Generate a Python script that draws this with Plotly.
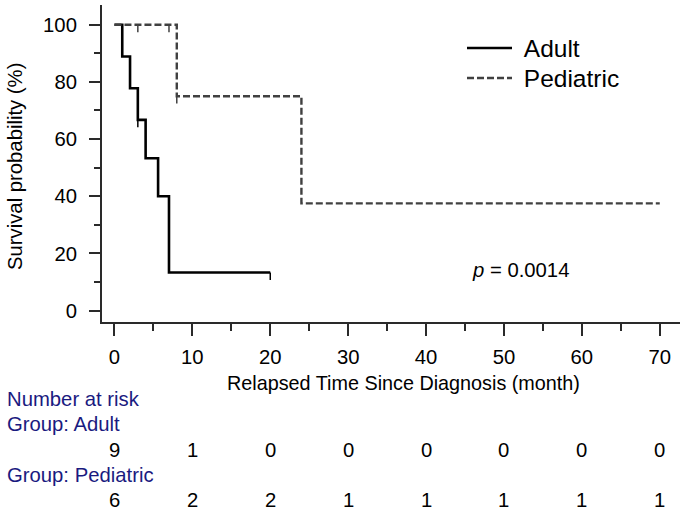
import plotly.graph_objects as go

# ---- data ----
adult_t = [0, 1, 2, 3, 4, 5.6, 7, 20]
adult_s = [100, 88.9, 77.8, 66.7, 53.3, 40.0, 13.3, 13.3]
adult_cens_t = [3, 20]
adult_cens_s = [66.7, 13.3]

ped_t = [0, 8, 24, 70]
ped_s = [100, 75.0, 37.5, 37.5]
ped_cens_t = [3, 7, 8]
ped_cens_s = [100, 100, 75.0]

risk_times = [0, 10, 20, 30, 40, 50, 60, 70]
risk_adult = [9, 1, 0, 0, 0, 0, 0, 0]
risk_ped = [6, 2, 2, 1, 1, 1, 1, 1]
p_text = "<i>p</i> = 0.0014"

W, H = 685, 513
ML, MR, MT, MB = 102, 5, 5, 191
PH = H - MT - MB
PW = W - ML - MR
FONT = "Liberation Sans, Arial, sans-serif"
FS = 20.3
NAVY = "#1a1a80"
PED_COL = "#404040"
CENS_LEN = 2.6  # tick length in % units


def cens_xy(ts, ss):
    xs, ys = [], []
    for t, s in zip(ts, ss):
        xs += [t, t, None]
        ys += [s, s - CENS_LEN, None]
    return xs, ys


def py(pix):
    return (H - MB - pix) / PH


def px(pix):
    return (pix - ML) / PW


fig = go.Figure()
fig.add_trace(go.Scatter(x=adult_t, y=adult_s, mode="lines", line_shape="hv",
                         name="\u00a0Adult", legend="legend",
                         line=dict(color="black", width=2.6)))
fig.add_trace(go.Scatter(x=ped_t, y=ped_s, mode="lines", line_shape="hv",
                         name="\u00a0Pediatric", legend="legend2",
                         line=dict(color=PED_COL, width=2.4, dash="7px,3px")))
cx, cy = cens_xy(adult_cens_t, adult_cens_s)
fig.add_trace(go.Scatter(x=cx, y=cy, mode="lines", showlegend=False,
                         line=dict(color="black", width=1.5)))
cx, cy = cens_xy(ped_cens_t, ped_cens_s)
fig.add_trace(go.Scatter(x=cx, y=cy, mode="lines", showlegend=False,
                         line=dict(color=PED_COL, width=1.5)))

axis_common = dict(showgrid=False, zeroline=False, showline=True, automargin=False,
                   linecolor="#2a2a2a", linewidth=2, ticks="outside",
                   tickcolor="#2a2a2a", tickwidth=1.5,
                   tickfont=dict(family=FONT, size=FS, color="black"))
fig.update_xaxes(range=[-1.6, 72.6], tickvals=risk_times, ticklen=12,
                 minor=dict(dtick=5, tick0=5, ticklen=7, tickwidth=1.5,
                            tickcolor="#2a2a2a", ticks="outside"),
                 ticklabelstandoff=4, **axis_common)
fig.update_yaxes(range=[-4.0, 106.9], tickvals=[0, 20, 40, 60, 80, 100], ticklen=11,
                 minor=dict(dtick=10, tick0=10, ticklen=6, tickwidth=1.5,
                            tickcolor="#2a2a2a", ticks="outside"),
                 ticklabelstandoff=8, **axis_common)

ann = []
ann.append(dict(text="Relapsed Time Since Diagnosis (month)", x=px(403), y=py(383),
                xref="paper", yref="paper", showarrow=False,
                font=dict(family=FONT, size=19.8, color="black"),
                xanchor="center", yanchor="middle"))
ann.append(dict(text="Survival probability (%)", x=px(15),
                y=py(167), xref="paper", yref="paper", showarrow=False, textangle=-90,
                font=dict(family=FONT, size=FS, color="black"),
                xanchor="center", yanchor="middle"))
ann.append(dict(text=p_text, x=px(470), y=py(270), xref="paper", yref="paper",
                showarrow=False,
                font=dict(family=FONT, size=FS, color="black"),
                xanchor="left", yanchor="middle"))
for label, ypix in [("Number at risk", 399), ("Group: Adult", 424),
                    ("Group: Pediatric", 475)]:
    ann.append(dict(text=label, x=px(5), y=py(ypix),
                    xref="paper", yref="paper", showarrow=False,
                    font=dict(family=FONT, size=FS, color=NAVY),
                    xanchor="left", yanchor="middle"))
for vals, ypix in [(risk_adult, 450), (risk_ped, 500)]:
    for t, v in zip(risk_times, vals):
        ann.append(dict(text=str(v), x=t, y=py(ypix), xref="x", yref="paper",
                        showarrow=False,
                        font=dict(family=FONT, size=FS, color="black"),
                        xanchor="center", yanchor="middle"))

leg_common = dict(xanchor="left", yanchor="middle",
                  font=dict(family=FONT, size=24.5, color="black"),
                  bgcolor="rgba(0,0,0,0)", itemwidth=45, borderwidth=0)
fig.update_layout(
    template="none",
    width=W, height=H,
    margin=dict(l=ML, r=MR, t=MT, b=MB, autoexpand=False),
    plot_bgcolor="white", paper_bgcolor="white",
    annotations=ann,
    showlegend=True,
    legend=dict(x=px(462), y=py(48), **leg_common),
    legend2=dict(x=px(462), y=py(78), **leg_common),
)

fig.write_html("out.html", config={"displayModeBar": False},
               post_script="document.body.style.margin='0';document.body.style.overflow='hidden';")
